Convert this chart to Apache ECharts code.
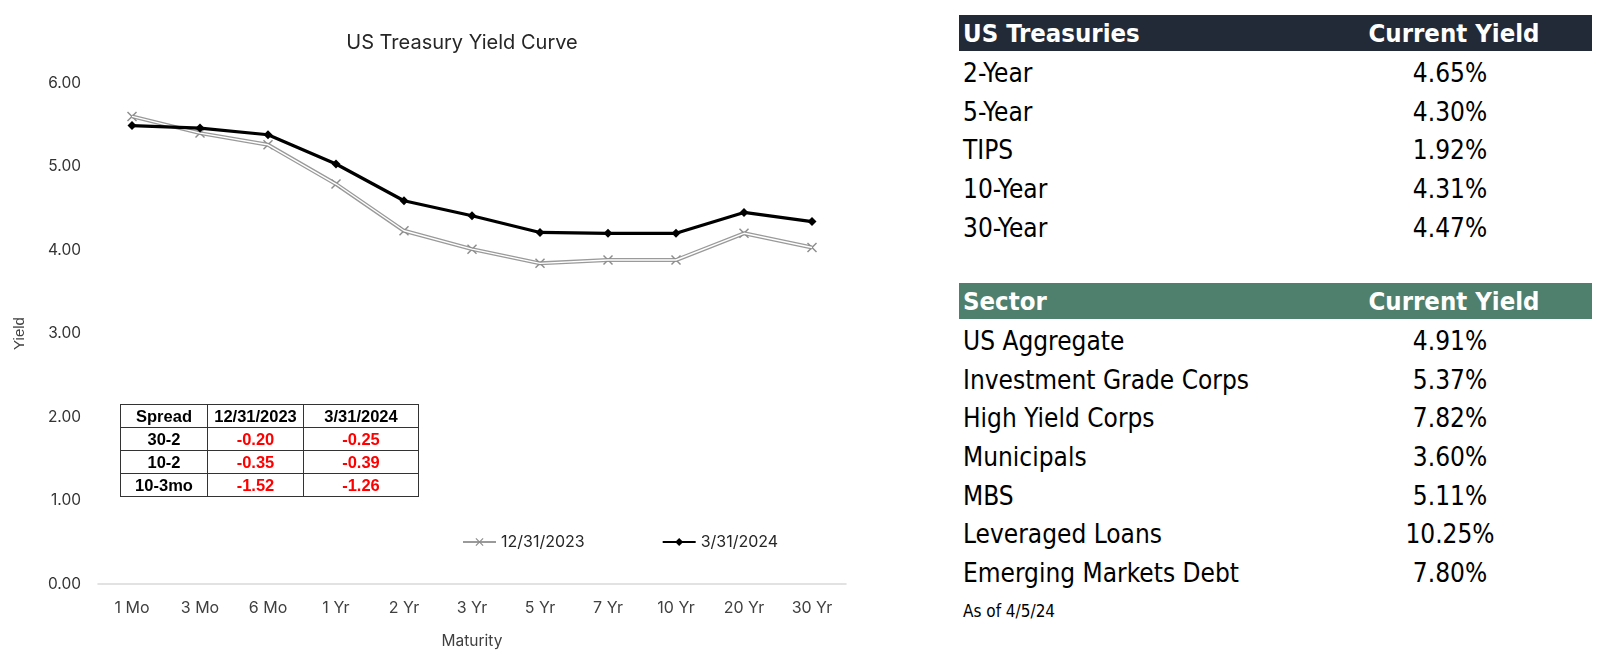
<!DOCTYPE html>
<html>
<head>
<meta charset="utf-8">
<script src="https://cdn.jsdelivr.net/npm/echarts@6/dist/echarts.min.js"></script>
<style>
  html, body { margin:0; padding:0; background:#fff; }
  #wrap { position:relative; width:1600px; height:659px; overflow:hidden; }
  #chart { position:absolute; left:0; top:0; width:900px; height:659px; }
  .spread { position:absolute; left:120px; top:404px; border-collapse:collapse; font-family:"Liberation Sans", Arial, sans-serif; font-weight:bold; font-size:16.5px; }
  .spread td { border:1.5px solid #333; text-align:center; padding:0; height:22px; line-height:22px; }
  .spread td.neg { color:#ff0000; }
  .ytab { position:absolute; left:959px; width:633px; font-family:"Liberation Sans Narrow","DejaVu Sans Condensed", sans-serif; color:#000; }
  .ytab .hdr { height:36px; color:#fff; font-weight:bold; font-size:25.5px; position:relative; }
  .ytab .row { height:38.7px; font-size:26px; position:relative; }
  .ytab .l { position:absolute; left:4px; top:50%; transform:translateY(-50%); white-space:nowrap; }
  .ytab .row .l { top:calc(50% + 2.5px); }
  .ytab .r { position:absolute; left:491px; top:50%; transform:translate(-50%,-50%); white-space:nowrap; }
  .ytab .row .r { top:calc(50% + 2.5px); }
  .ytab .hdr .r { left:495px; }
  .asof { position:absolute; left:963px; top:601px; font-family:"Liberation Sans Narrow","DejaVu Sans Condensed", sans-serif; font-size:17px; }
</style>
</head>
<body>
<div id="wrap">
  <div id="chart"></div>
  <table class="spread" id="spread"></table>
  <div class="ytab" id="tres" style="top:15px"></div>
  <div class="ytab" id="sect" style="top:283px"></div>
  <div class="asof">As of 4/5/24</div>
</div>
<script>
// ---- Data ----
const maturities = ['1 Mo','3 Mo','6 Mo','1 Yr','2 Yr','3 Yr','5 Yr','7 Yr','10 Yr','20 Yr','30 Yr'];
const yields_2023_12_31 = [5.60, 5.40, 5.26, 4.79, 4.23, 4.01, 3.84, 3.88, 3.88, 4.20, 4.03];
const yields_2024_03_31 = [5.49, 5.46, 5.38, 5.03, 4.59, 4.41, 4.21, 4.20, 4.20, 4.45, 4.34];
const seriesNames = ['12/31/2023', '3/31/2024'];
const yTicks = [0, 1, 2, 3, 4, 5, 6];

const spreadHeader = ['Spread', '12/31/2023', '3/31/2024'];
const spreadLabels = ['30-2', '10-2', '10-3mo'];
const spread_2023 = ['-0.20', '-0.35', '-1.52'];
const spread_2024 = ['-0.25', '-0.39', '-1.26'];

const treasuryHeader = ['US Treasuries', 'Current Yield'];
const treasuryNames = ['2-Year', '5-Year', 'TIPS', '10-Year', '30-Year'];
const treasuryYields = ['4.65%', '4.30%', '1.92%', '4.31%', '4.47%'];

const sectorHeader = ['Sector', 'Current Yield'];
const sectorNames = ['US Aggregate', 'Investment Grade Corps', 'High Yield Corps', 'Municipals', 'MBS', 'Leveraged Loans', 'Emerging Markets Debt'];
const sectorYields = ['4.91%', '5.37%', '7.82%', '3.60%', '5.11%', '10.25%', '7.80%'];

// ---- Tables ----
(function(){
  const t = document.getElementById('spread');
  const widths = [86, 95, 114];
  let html = '<tr>' + spreadHeader.map((h,i)=>'<td style="width:'+widths[i]+'px">'+h+'</td>').join('') + '</tr>';
  spreadLabels.forEach((lab,i)=>{
    html += '<tr><td>'+lab+'</td><td class="neg">'+spread_2023[i]+'</td><td class="neg">'+spread_2024[i]+'</td></tr>';
  });
  t.innerHTML = html;

  function build(el, header, names, vals, bg){
    let h = '<div class="hdr" style="background:'+bg+'"><span class="l">'+header[0]+'</span><span class="r">'+header[1]+'</span></div>';
    names.forEach((n,i)=>{ h += '<div class="row"><span class="l">'+n+'</span><span class="r">'+vals[i]+'</span></div>'; });
    el.innerHTML = h;
  }
  build(document.getElementById('tres'), treasuryHeader, treasuryNames, treasuryYields, '#222a37');
  build(document.getElementById('sect'), sectorHeader, sectorNames, sectorYields, '#4f7f6d');
})();

// ---- Chart ----
const chart = echarts.init(document.getElementById('chart'), null, {renderer:'canvas'});
const xSymbol = 'path://M0,1L1,0L5,4L9,0L10,1L6,5L10,9L9,10L5,6L1,10L0,9L4,5Z';
chart.setOption({
  animation: false,
  textStyle: { fontFamily: 'Inter, "Noto Sans", sans-serif' },
  title: {
    text: 'US Treasury Yield Curve',
    left: 457, top: 28, textAlign: 'center',
    textStyle: { fontSize: 20, fontWeight: 'normal', color: '#262626', fontFamily: 'Inter, sans-serif' }
  },
  legend: {
    data: seriesNames,
    left: 462, top: 534, padding: 0, itemWidth: 33, itemHeight: 10, itemGap: 77,
    textStyle: { fontSize: 16, color: '#262626' }
  },
  grid: { left: 98, right: 54, top: 83, bottom: 75, containLabel: false },
  xAxis: {
    type: 'category', data: maturities, boundaryGap: true,
    name: 'Maturity', nameLocation: 'middle', nameGap: 49,
    nameTextStyle: { fontSize: 15.5, color: '#404040' },
    axisLine: { lineStyle: { color: '#d9d9d9', width: 1.5 } },
    axisTick: { show: false },
    axisLabel: { fontSize: 16, color: '#404040', margin: 16 }
  },
  yAxis: {
    type: 'value', min: yTicks[0], max: yTicks[yTicks.length-1], interval: 1,
    name: 'Yield', nameLocation: 'middle', nameGap: 71, nameRotate: 90,
    nameTextStyle: { fontSize: 15, color: '#404040', fontFamily: '"Liberation Sans", Arial, sans-serif' },
    axisLine: { show: false }, axisTick: { show: false },
    splitLine: { show: false },
    axisLabel: { fontSize: 15.5, color: '#333', margin: 17, formatter: v => v.toFixed(2) }
  },
  series: [
    {
      name: seriesNames[0], type: 'line', data: yields_2023_12_31, z: 2,
      symbol: xSymbol, symbolSize: 10,
      lineStyle: { color: '#9a9a9a', width: 4 },
      itemStyle: { color: '#8c8c8c' }
    },
    {
      name: seriesNames[0] + ' inner', type: 'line', data: yields_2023_12_31, z: 3,
      symbol: 'none', silent: true,
      lineStyle: { color: '#ffffff', width: 1.4 }
    },
    {
      name: seriesNames[1], type: 'line', data: yields_2024_03_31, z: 4,
      symbol: 'diamond', symbolSize: 9,
      lineStyle: { color: '#000', width: 3.2 },
      itemStyle: { color: '#000' }
    }
  ]
});
</script>
</body>
</html>
